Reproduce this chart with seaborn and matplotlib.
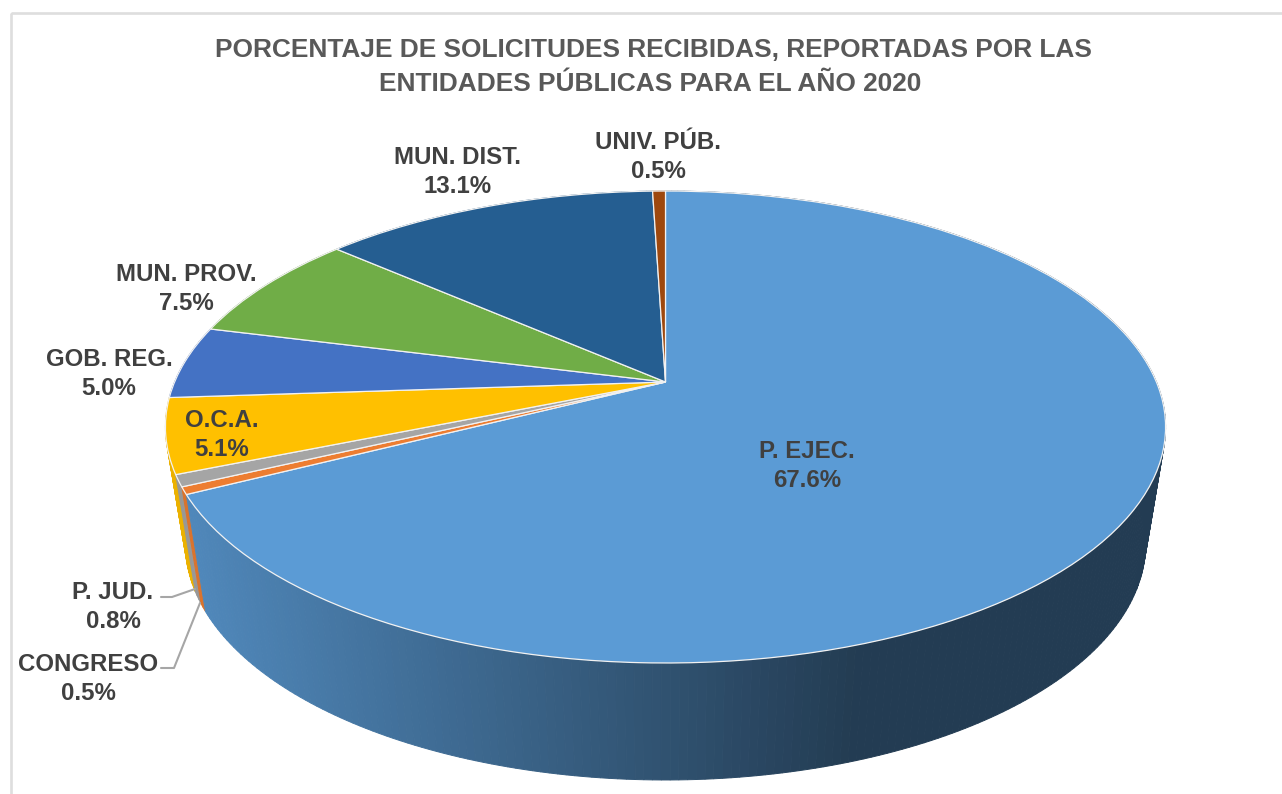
import numpy as np
import matplotlib
matplotlib.use("Agg")
import matplotlib.pyplot as plt
from matplotlib.transforms import Transform
from matplotlib.patches import Rectangle
from matplotlib.colors import to_rgb
import seaborn as sns

# ---- data -------------------------------------------------------------
categories = ["P. EJEC.", "CONGRESO", "P. JUD.", "O.C.A.", "GOB. REG.",
              "MUN. PROV.", "MUN. DIST.", "UNIV. PÚB."]
values = [67.6, 0.5, 0.8, 5.1, 5.0, 7.5, 13.1, 0.5]
colors = ["#5B9BD5", "#ED7D31", "#A5A5A5", "#FFC000", "#4472C4",
          "#70AD47", "#255E91", "#9E480E"]
title_lines = ["PORCENTAJE DE SOLICITUDES RECIBIDAS, REPORTADAS POR LAS",
               "ENTIDADES PÚBLICAS PARA EL AÑO 2020"]

# ---- layout (pixels of the 1282x794 canvas) ----------------------------
label_xy = {"P. EJEC.": (807, 466), "CONGRESO": (88, 679), "P. JUD.": (113, 607),
            "O.C.A.": (222, 435), "GOB. REG.": (109, 374), "MUN. PROV.": (186, 289),
            "MUN. DIST.": (458, 172), "UNIV. PÚB.": (658, 157)}
APEX = (665.5, 382.0)
K, A, B = 0.1907, 490.9, 227.4
DROP, SHRINK = 117.0, 0.96

sns.set_theme(style="white")
plt.rcParams["font.family"] = ["Liberation Sans", "DejaVu Sans"]

fig = plt.figure(figsize=(12.82, 7.94), dpi=100, facecolor="white")
ax = fig.add_axes([0, 0, 1, 1])


class Tilt(Transform):
    """Perspective view of the unit-circle pie on the canvas."""
    input_dims = output_dims = 2

    def __init__(self, drop=0.0, shrink=1.0):
        super().__init__()
        self.drop, self.shrink = drop, shrink

    def transform_non_affine(self, xy):
        xy = np.asarray(xy, float)
        w = 1 + K * xy[:, 1]
        return np.column_stack([APEX[0] + self.shrink * A * xy[:, 0] / w,
                                APEX[1] + self.drop - B * xy[:, 1] / w])


top = Tilt()
low = Tilt(DROP, SHRINK)
palette = sns.color_palette(colors)

# top face, from the library's pie
wedges, _ = ax.pie(values, colors=palette, startangle=90, counterclock=False,
                   wedgeprops=dict(edgecolor="#f2f2f2", linewidth=0.9, zorder=5))
for w in wedges:
    w.set_transform(top + ax.transData)
    w.set_clip_on(False)
ax.set_aspect("auto")
ax.set_xlim(0, 1282)
ax.set_ylim(794, 0)
ax.axis("off")


def shade(x):
    return float(np.clip(0.88 - 0.49 * (x - 190) / 660, 0.39, 0.9))


# side wall: follows the same slice angles
fr = np.cumsum([0] + values) / np.sum(values)
segs = []
for i, col in enumerate(palette):
    n = max(2, int((fr[i + 1] - fr[i]) * 420))
    th = np.linspace(fr[i], fr[i + 1], n + 1) * 2 * np.pi
    uv = np.column_stack([np.sin(th), np.cos(th)])
    p, q = top.transform(uv), low.transform(uv)
    for j in range(n):
        vm = 0.5 * (uv[j, 1] + uv[j + 1, 1])
        poly = np.array([p[j], p[j + 1], q[j + 1], q[j]])
        s = shade(poly[:, 0].mean()) if i == 0 else 0.92
        segs.append((vm, poly, tuple(np.array(to_rgb(col)) * s)))
for vm, poly, c in sorted(segs, key=lambda t: -t[0]):
    ax.fill(poly[:, 0], poly[:, 1], facecolor=c, edgecolor=c, linewidth=0.7, zorder=2)

# frame of the pasted chart (runs off the right and bottom of the canvas)
ax.add_patch(Rectangle((10.5, 12.5), 1400, 900, fill=False, edgecolor="#dedede",
                       linewidth=1.9, zorder=1))

# title
for txt, x, y in zip(title_lines, (653, 650), (50, 84)):
    ax.text(x, y, txt, ha="center", va="center", fontsize=18.95, fontweight="bold",
            color="#595959", zorder=8)

# labels
for name, v in zip(categories, values):
    x, y = label_xy[name]
    ax.text(x, y, f"{name}\n{v:.1f}%", ha="center", va="center", fontsize=17.3,
            fontweight="bold", color="#404040", linespacing=1.34, zorder=8)

# leader lines
ax.plot([161, 172, 195], [597, 597, 589], color="#a6a6a6", lw=1.5, zorder=7)
ax.plot([161, 174, 200], [668, 668, 603], color="#a6a6a6", lw=1.5, zorder=7)

fig.savefig("out.png", dpi=100, facecolor="white")
